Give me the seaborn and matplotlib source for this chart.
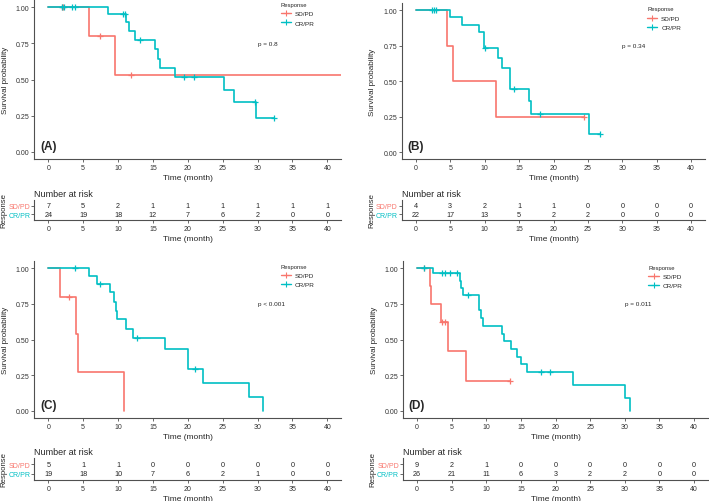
import numpy as np
import matplotlib
matplotlib.use('Agg')
import matplotlib.pyplot as plt
from matplotlib.lines import Line2D
import seaborn as sns

SD_COLOR = '#F8766D'
CR_COLOR = '#00BFC4'
GROUPS = ['SD/PD', 'CR/PR']
TICKS = np.arange(0, 45, 5)

# panel A
a_sd_time = [0, 5.8, 9.5, 45]
a_sd_surv = [1, 0.8, 0.533, 0.533]
a_sd_cens = [1.9, 2.1, 7.4, 11.8]
a_cr_time = [0, 8.5, 11.2, 11.6, 12.4, 15.3, 15.7, 16.0, 18.2, 25.2, 26.6, 29.8, 32.3]
a_cr_surv = [1, 0.955, 0.895, 0.835, 0.775, 0.71, 0.645, 0.58, 0.515, 0.43, 0.345, 0.23, 0.23]
a_cr_cens = [2.0, 2.2, 3.4, 3.9, 10.7, 11.0, 13.2, 19.4, 20.9, 29.7, 32.3]
a_risk_sd = [7, 5, 2, 1, 1, 1, 1, 1, 1]
a_risk_cr = [24, 19, 18, 12, 7, 6, 2, 0, 0]
a_pval = 'p = 0.8'

# panel B
b_sd_time = [0, 4.5, 5.4, 11.7, 24.5]
b_sd_surv = [1, 0.75, 0.5, 0.25, 0.25]
b_sd_cens = [24.5]
b_cr_time = [0, 4.95, 6.75, 9.2, 9.9, 12.0, 12.5, 13.7, 16.5, 16.7, 25.2, 26.8]
b_cr_surv = [1, 0.948, 0.895, 0.843, 0.73, 0.665, 0.595, 0.445, 0.36, 0.265, 0.13, 0.13]
b_cr_cens = [2.3, 2.7, 3.0, 10.0, 14.2, 18.0, 26.8]
b_risk_sd = [4, 3, 2, 1, 1, 0, 0, 0, 0]
b_risk_cr = [22, 17, 13, 5, 2, 2, 0, 0, 0]
b_pval = 'p = 0.34'

# panel C
c_sd_time = [0, 1.7, 4.0, 4.3, 10.8]
c_sd_surv = [1, 0.8, 0.535, 0.27, 0.0]
c_sd_cens = [3.0]
c_cr_time = [0, 5.9, 7.05, 8.9, 9.45, 9.7, 9.8, 11.2, 12.2, 16.7, 20.1, 22.2, 28.8, 30.8]
c_cr_surv = [1, 0.945, 0.89, 0.83, 0.765, 0.70, 0.64, 0.575, 0.51, 0.435, 0.295, 0.195, 0.097, 0.0]
c_cr_cens = [3.8, 7.4, 12.7, 21.0]
c_risk_sd = [5, 1, 1, 0, 0, 0, 0, 0, 0]
c_risk_cr = [19, 18, 10, 7, 6, 2, 1, 0, 0]
c_pval = 'p < 0.001'

# panel D
d_sd_time = [0, 1.8, 1.95, 3.4, 4.5, 7.1, 13.4]
d_sd_surv = [1, 0.875, 0.75, 0.625, 0.417, 0.21, 0.21]
d_sd_cens = [1.0, 3.6, 4.1, 13.4]
d_cr_time = [0, 2.3, 6.15, 6.4, 6.7, 8.9, 9.3, 9.5, 12.3, 12.6, 13.6, 14.5, 15.0, 15.9, 22.6, 30.05, 30.8]
d_cr_surv = [1, 0.962, 0.91, 0.86, 0.81, 0.705, 0.65, 0.595, 0.54, 0.487, 0.434, 0.378, 0.326, 0.272,
             0.182, 0.091, 0.0]
d_cr_cens = [1.0, 3.6, 4.0, 4.8, 5.8, 7.3, 17.9, 19.2]
d_risk_sd = [9, 2, 1, 0, 0, 0, 0, 0, 0]
d_risk_cr = [26, 21, 11, 6, 3, 2, 2, 0, 0]
d_pval = 'p = 0.011'

sns.set_style('ticks')
plt.rcParams['font.family'] = ['Liberation Sans', 'DejaVu Sans']

W, H = 709, 502
fig = plt.figure(figsize=(W / 100, H / 100), dpi=100)


def px_axes(left, top, right, bottom):
    """Axes placed by pixel box (top-left origin)."""
    return fig.add_axes([left / W, 1 - bottom / H, (right - left) / W, (bottom - top) / H])


def style_axis(ax):
    sns.despine(ax=ax)
    for side in ['left', 'bottom']:
        ax.spines[side].set_color('#505050')
        ax.spines[side].set_linewidth(0.8)
    ax.tick_params(length=2, width=0.6, color='#505050', pad=1.5, labelsize=5, labelcolor='#333333')
    ax.set_xlim(-2, 42)
    ax.set_xticks(TICKS)
    ax.set_xlabel('Time (month)', fontsize=6, labelpad=2)


def draw_curve(ax, time, surv, cens, color):
    sns.lineplot(x=time, y=surv, ax=ax, color=color, linewidth=1.2, drawstyle='steps-post',
                 legend=False, errorbar=None)
    idx = np.searchsorted(time, cens, side='right') - 1
    ax.plot(cens, np.asarray(surv)[idx], ls='none', marker='+', ms=5, mew=0.9, color=color)


def km_panel(box, label, sd, cr, pval, leg_anchor):
    ax = px_axes(*box)
    draw_curve(ax, *sd, SD_COLOR)
    draw_curve(ax, *cr, CR_COLOR)
    style_axis(ax)
    ax.set_ylim(-0.05, 1.05)
    ax.set_yticks([0, 0.25, 0.5, 0.75, 1.0])
    ax.set_yticklabels(['0.00', '0.25', '0.50', '0.75', '1.00'])
    ax.set_ylabel('Survival probability', fontsize=5.8, labelpad=5)
    ax.text(30, 0.75, pval, fontsize=4.6, ha='left', va='center')
    ax.text(-1.2, 0.0, label, fontsize=8.5, fontweight='bold', ha='left', va='bottom')
    handles = [Line2D([], [], color=c, marker='+', lw=1, ms=4, mew=0.8) for c in (SD_COLOR, CR_COLOR)]
    ax.legend(handles, GROUPS, title='Response', loc='upper left', bbox_to_anchor=leg_anchor,
              frameon=False, fontsize=4.6, title_fontsize=4.2, alignment='left', borderpad=0,
              borderaxespad=0, handlelength=1.6, handletextpad=0.6, labelspacing=0.6)


def risk_table(box, risk_sd, risk_cr):
    ax = px_axes(*box)
    for x, n in zip(TICKS, risk_sd):
        ax.text(x, 1, str(n), fontsize=5.2, ha='center', va='center')
    for x, n in zip(TICKS, risk_cr):
        ax.text(x, 0, str(n), fontsize=5.2, ha='center', va='center')
    style_axis(ax)
    ax.set_ylim(-0.7, 1.7)
    ax.set_yticks([1, 0])
    ax.set_yticklabels(GROUPS)
    ax.tick_params(axis='y', pad=1)
    for tl, c in zip(ax.get_yticklabels(), (SD_COLOR, CR_COLOR)):
        tl.set_color(c)
    ax.set_ylabel('Response', fontsize=5.6, labelpad=0.3)
    ax.set_title('Number at risk', loc='left', fontsize=6.5, pad=3)


km_panel((34.3, 1.1, 341.3, 159.9), '(A)', (a_sd_time, a_sd_surv, a_sd_cens),
         (a_cr_time, a_cr_surv, a_cr_cens), a_pval, (0.803, 0.988))
km_panel((402, 3.9, 705, 160.1), '(B)', (b_sd_time, b_sd_surv, b_sd_cens),
         (b_cr_time, b_cr_surv, b_cr_cens), b_pval, (0.809, 0.977))
km_panel((34.3, 261.9, 341.3, 419.1), '(C)', (c_sd_time, c_sd_surv, c_sd_cens),
         (c_cr_time, c_cr_surv, c_cr_cens), c_pval, (0.803, 0.983))
km_panel((403.2, 261.9, 707.8, 419.1), '(D)', (d_sd_time, d_sd_surv, d_sd_cens),
         (d_cr_time, d_cr_surv, d_cr_cens), d_pval, (0.805, 0.977))

risk_table((34.3, 201, 341.3, 221), a_risk_sd, a_risk_cr)
risk_table((402, 201, 705, 221), b_risk_sd, b_risk_cr)
risk_table((34.3, 459, 341.3, 481), c_risk_sd, c_risk_cr)
risk_table((403.2, 459, 707.8, 481), d_risk_sd, d_risk_cr)

fig.savefig('out.png', dpi=100)
